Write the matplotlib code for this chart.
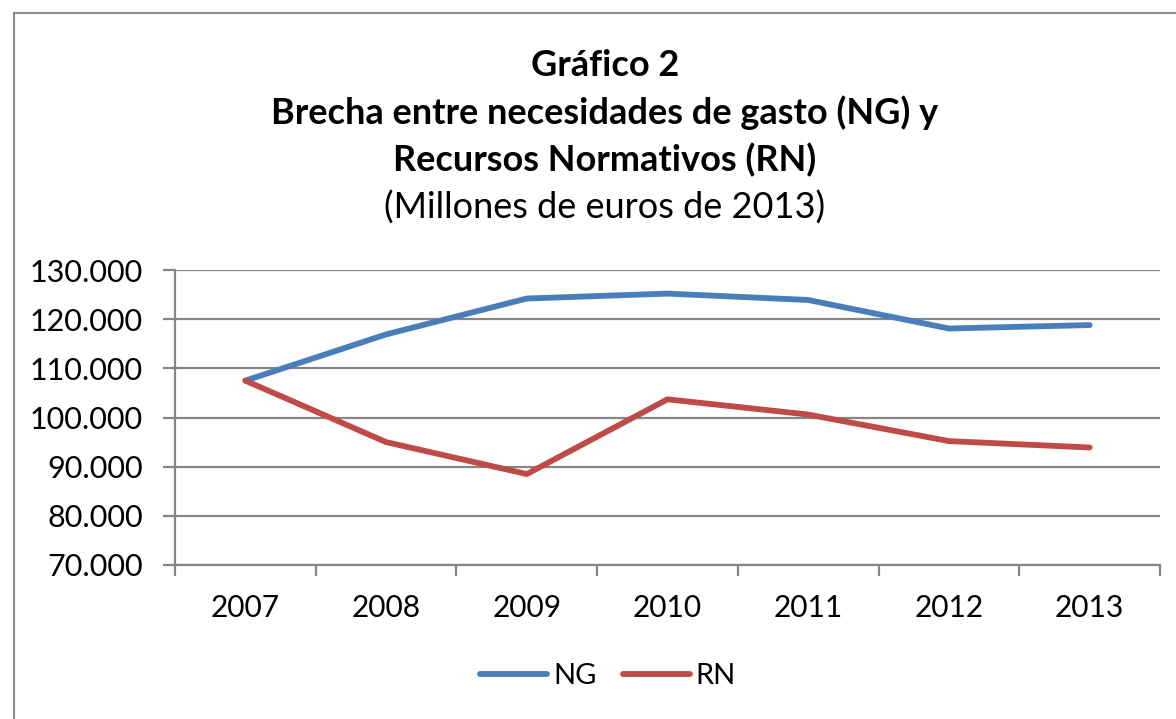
import numpy as np
import matplotlib
matplotlib.use('Agg')
from matplotlib import pyplot as plt
from matplotlib.patches import Rectangle
from matplotlib.ticker import FuncFormatter, FixedLocator

years = ['2007', '2008', '2009', '2010', '2011', '2012', '2013']
ng = [107500, 116900, 124200, 125200, 123900, 118100, 118800]
rn = [107500, 95000, 88500, 103700, 100600, 95200, 93900]

plt.rcParams['font.family'] = ['Lato', 'DejaVu Sans']

fig = plt.figure(figsize=(11.76, 7.19), dpi=100)
ax = fig.add_axes([175/1176, 1-565/719, (1160-175)/1176, (565-270)/719])

# chart border (runs off the right and bottom of the picture)
fig.patches.append(Rectangle((14/1176, -0.1), 1.2, 1-13/719+0.1, transform=fig.transFigure,
                             fill=False, edgecolor='#8c8c8c', linewidth=1.5))

x = np.arange(len(years))
ax.plot(x, ng, color='#4A7EBB', linewidth=4.2, solid_capstyle='round', label='NG')
ax.plot(x, rn, color='#BE4B48', linewidth=4.2, solid_capstyle='round', label='RN')

ax.set_xlim(-0.5, len(years) - 0.5)
ax.set_ylim(70000, 130000)
ax.set_yticks(np.arange(70000, 130001, 10000))
ax.yaxis.set_major_formatter(FuncFormatter(lambda v, p: f'{int(v):,}'.replace(',', '.')))
ax.grid(axis='y', color='#868686', linewidth=1.6)
ax.set_axisbelow(True)

ax.set_xticks(x)
ax.set_xticklabels(years)
ax.xaxis.set_minor_locator(FixedLocator(np.arange(-0.5, len(years), 1.0)))
ax.tick_params(axis='x', which='major', length=0, pad=21, labelsize=21.5)
ax.tick_params(axis='x', which='minor', length=8, width=1.6, color='#868686')
ax.tick_params(axis='y', length=9, width=1.6, color='#868686', labelsize=22, pad=14)

for s in ['top', 'right']:
    ax.spines[s].set_visible(False)
for s in ['left', 'bottom']:
    ax.spines[s].set_color('#868686')
    ax.spines[s].set_linewidth(1.6)

fig.text(605/1176, 1-65/719, 'Gráfico 2', ha='center', va='center', fontsize=26, fontweight='bold')
fig.text(605/1176, 1-113/719, 'Brecha entre necesidades de gasto (NG) y', ha='center', va='center',
         fontsize=26, fontweight='bold')
fig.text(605/1176, 1-160/719, 'Recursos Normativos (RN)', ha='center', va='center', fontsize=26, fontweight='bold')
fig.text(605/1176, 1-208/719, '(Millones de euros de 2013)', ha='center', va='center', fontsize=26)

fig.legend(loc='center', bbox_to_anchor=(608/1176, 1-676/719), ncol=2, frameon=False, fontsize=21,
           handlelength=2.3, handletextpad=0.2, columnspacing=0.9)

fig.savefig('out.png', dpi=100)
